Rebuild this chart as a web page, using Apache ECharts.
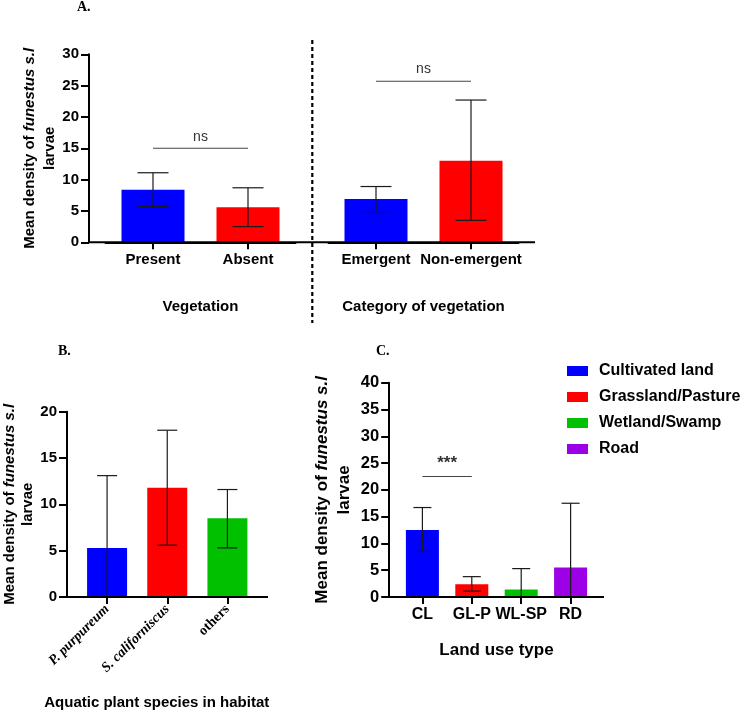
<!DOCTYPE html>
<html><head><meta charset="utf-8">
<script src="https://cdn.jsdelivr.net/npm/echarts@6/dist/echarts.min.js"></script>
<style>html,body{margin:0;padding:0;background:#fff}#c{width:740px;height:712px}</style>
</head><body><div id="c"></div>
<script>
// ---- data ----
const vegCats = ['Present', 'Absent'];
const vegMeans = [8.4, 5.6];
const vegLow = [5.7, 2.5];
const vegHigh = [11.1, 8.7];

const catCats = ['Emergent', 'Non-emergent'];
const catMeans = [6.9, 13.0];
const catLow = [4.9, 3.5];
const catHigh = [8.9, 22.7];

const plantCats = ['P. purpureum', 'S. californiscus', 'others'];
const plantMeans = [5.3, 11.8, 8.5];
const plantLow = [-2.6, 5.6, 5.3];
const plantHigh = [13.1, 18.0, 11.6];

const landCats = ['CL', 'GL-P', 'WL-SP', 'RD'];
const landNames = ['Cultivated land', 'Grassland/Pasture', 'Wetland/Swamp', 'Road'];
const landMeans = [12.5, 2.4, 1.4, 5.5];
const landLow = [8.5, 1.1, -2.4, -6.5];
const landHigh = [16.7, 3.8, 5.3, 17.5];

const sigVeg = [[0, 1, 15, 'ns']];
const sigCat = [[0, 1, 25.7, 'ns']];
const sigLand = [[0, 1, 22.5, '***']];

const colA = ['#0000FF', '#FF0000'];
const colB = ['#0000FF', '#FF0000', '#00C000'];
const colC = ['#0000FF', '#FF0000', '#00C000', '#9B00E6'];

// ---- helpers ----
const SANS = '"Liberation Sans", Arial, Helvetica, sans-serif';
const SERIF = '"Liberation Serif", "Times New Roman", serif';

function errData(lo, hi) { return lo.map((l, i) => [i, l, hi[i]]); }
function errRender(capHalf) {
  return function (params, api) {
    const x = api.value(0), lo = api.value(1), hi = api.value(2);
    const pHi = api.coord([x, hi]);
    const pLo = api.coord([x, Math.max(lo, 0)]);
    const st = { stroke: '#1a1a1a', lineWidth: 1.2 };
    const ch = [
      { type: 'line', shape: { x1: pHi[0], y1: pHi[1], x2: pLo[0], y2: pLo[1] }, style: st },
      { type: 'line', shape: { x1: pHi[0] - capHalf, y1: pHi[1], x2: pHi[0] + capHalf, y2: pHi[1] }, style: st }
    ];
    if (lo >= 0) ch.push({ type: 'line', shape: { x1: pLo[0] - capHalf, y1: pLo[1], x2: pLo[0] + capHalf, y2: pLo[1] }, style: st });
    return { type: 'group', children: ch };
  };
}
function sigRender(fs, weight, dy) {
  return function (params, api) {
    const p0 = api.coord([api.value(0), api.value(2)]);
    const p1 = api.coord([api.value(1), api.value(2)]);
    return {
      type: 'group', children: [
        { type: 'line', shape: { x1: p0[0], y1: p0[1], x2: p1[0], y2: p1[1] }, style: { stroke: '#444', lineWidth: 1.1 } },
        { type: 'text', style: { text: api.value(3), x: (p0[0] + p1[0]) / 2, y: p0[1] - dy, align: 'center', verticalAlign: 'middle', fontSize: fs, fontWeight: weight, fontFamily: SANS, fill: '#333' } }
      ]
    };
  };
}
function yName(fs, lh) {
  return {
    name: '{n|Mean density of }{i|funestus s.l}\n{n|larvae}',
    nameLocation: 'middle',
    nameMoveOverlap: false,
    nameTextStyle: {
      lineHeight: lh,
      rich: {
        n: { fontSize: fs, fontWeight: 'bold', fontFamily: SANS, color: '#000', lineHeight: lh },
        i: { fontSize: fs, fontWeight: 'bold', fontStyle: 'italic', fontFamily: SANS, color: '#000', lineHeight: lh }
      }
    }
  };
}
const axLine = { show: true, lineStyle: { color: '#000', width: 2 } };
const xTick = { show: true, alignWithLabel: true, length: 7, lineStyle: { color: '#000', width: 2 } };
function yTicks(len) { return { show: true, length: len, lineStyle: { color: '#000', width: 2 } }; }
function yLabel(fs) { return { fontSize: fs, fontWeight: 'bold', fontFamily: SANS, color: '#000', margin: 10 }; }
function xLabel(fs) { return { fontSize: fs, fontWeight: 'bold', fontFamily: SANS, color: '#000', margin: 10, interval: 0, hideOverlap: false }; }

// ---- layout ----
const gA1 = { left: 105.5, top: 54.3, width: 190, height: 188 };
const gA2 = { left: 328.5, top: 54.3, width: 190, height: 188 };
const gB = { left: 73, top: 411.7, width: 184.5, height: 185.3 };
const gC = { left: 397.7, top: 382.7, width: 197.6, height: 214.3 };

const chart = echarts.init(document.getElementById('c'), null, { renderer: 'canvas' });
chart.setOption({
  animation: false,
  backgroundColor: '#fff',
  grid: [gA1, gA2, gB, gC],
  legend: {
    data: landNames, orient: 'vertical', left: 567, top: 363, padding: 0,
    itemWidth: 21, itemHeight: 10, itemGap: 10, icon: 'rect',
    textStyle: { fontSize: 16, fontWeight: 'bold', fontFamily: SANS, color: '#000', lineHeight: 16, padding: [0, 0, 0, 6] }
  },
  xAxis: [
    {
      gridIndex: 0, type: 'category', data: vegCats, axisLine: axLine, axisTick: xTick,
      axisLabel: xLabel(15),
      name: 'Vegetation', nameLocation: 'middle', nameGap: 57,
      nameTextStyle: { fontSize: 15, fontWeight: 'bold', fontFamily: SANS, color: '#000' }
    },
    {
      gridIndex: 1, type: 'category', data: catCats, axisLine: axLine, axisTick: xTick,
      axisLabel: xLabel(15),
      name: 'Category of vegetation', nameLocation: 'middle', nameGap: 57,
      nameTextStyle: { fontSize: 15, fontWeight: 'bold', fontFamily: SANS, color: '#000' }
    },
    {
      gridIndex: 2, type: 'category', data: plantCats, axisLine: axLine, axisTick: xTick,
      axisLabel: {
        rotate: 45, margin: 10, interval: 0, fontSize: 14, fontFamily: SERIF, color: '#000', fontWeight: 'bold',
        formatter: v => (v === 'others' ? '{o|' + v + '}' : '{s|' + v + '}'),
        rich: {
          s: { fontSize: 14, fontFamily: SERIF, fontStyle: 'italic', fontWeight: 'bold', color: '#000' },
          o: { fontSize: 14, fontFamily: SERIF, fontWeight: 'bold', color: '#000' }
        }
      },
      name: 'Aquatic plant species in habitat', nameLocation: 'middle', nameGap: 98,
      nameTextStyle: { fontSize: 15, fontWeight: 'bold', fontFamily: SANS, color: '#000', padding: [0, 21, 0, 0] }
    },
    {
      gridIndex: 3, type: 'category', data: landCats, axisLine: axLine, axisTick: xTick,
      axisLabel: xLabel(16),
      name: 'Land use type', nameLocation: 'middle', nameGap: 45,
      nameTextStyle: { fontSize: 17, fontWeight: 'bold', fontFamily: SANS, color: '#000' }
    }
  ],
  yAxis: [
    Object.assign({
      gridIndex: 0, type: 'value', min: 0, max: 30, interval: 5, offset: 16.5,
      axisLine: axLine, axisTick: yTicks(8), axisLabel: yLabel(15), splitLine: { show: false }, nameGap: 29
    }, yName(15, 20)),
    { gridIndex: 1, type: 'value', min: 0, max: 30, interval: 5, show: false, splitLine: { show: false } },
    Object.assign({
      gridIndex: 2, type: 'value', min: 0, max: 20, interval: 5, offset: 10,
      axisLine: axLine, axisTick: yTicks(8), axisLabel: yLabel(15), splitLine: { show: false }, nameGap: 30
    }, yName(15, 18)),
    Object.assign({
      gridIndex: 3, type: 'value', min: 0, max: 40, interval: 5, offset: 8.5,
      axisLine: axLine, axisTick: yTicks(8), axisLabel: yLabel(16.5), splitLine: { show: false }, nameGap: 34
    }, yName(17, 22))
  ],
  series: [
    { type: 'bar', xAxisIndex: 0, yAxisIndex: 0, barWidth: 63, data: vegMeans.map((v, i) => ({ value: v, itemStyle: { color: colA[i] } })) },
    { type: 'bar', xAxisIndex: 1, yAxisIndex: 1, barWidth: 63, data: catMeans.map((v, i) => ({ value: v, itemStyle: { color: colA[i] } })) },
    { type: 'bar', xAxisIndex: 2, yAxisIndex: 2, barWidth: 40, data: plantMeans.map((v, i) => ({ value: v, itemStyle: { color: colB[i] } })) },
    ...landNames.map((nm, k) => ({
      type: 'bar', name: nm, xAxisIndex: 3, yAxisIndex: 3, barWidth: 33, barGap: '-100%',
      itemStyle: { color: colC[k] },
      data: landMeans.map((v, j) => (j === k ? v : '-'))
    })),
    { type: 'custom', xAxisIndex: 0, yAxisIndex: 0, z: 5, renderItem: errRender(15.5), data: errData(vegLow, vegHigh), encode: { x: 0, y: [1, 2] } },
    { type: 'custom', xAxisIndex: 1, yAxisIndex: 1, z: 5, renderItem: errRender(15.5), data: errData(catLow, catHigh), encode: { x: 0, y: [1, 2] } },
    { type: 'custom', xAxisIndex: 2, yAxisIndex: 2, z: 5, renderItem: errRender(10), data: errData(plantLow, plantHigh), encode: { x: 0, y: [1, 2] } },
    { type: 'custom', xAxisIndex: 3, yAxisIndex: 3, z: 5, renderItem: errRender(9), data: errData(landLow, landHigh), encode: { x: 0, y: [1, 2] } },
    { type: 'custom', xAxisIndex: 0, yAxisIndex: 0, z: 5, renderItem: sigRender(14, 'normal', 11), data: sigVeg, encode: { x: [0, 1], y: 2 } },
    { type: 'custom', xAxisIndex: 1, yAxisIndex: 1, z: 5, renderItem: sigRender(14, 'normal', 12), data: sigCat, encode: { x: [0, 1], y: 2 } },
    { type: 'custom', xAxisIndex: 3, yAxisIndex: 3, z: 5, renderItem: sigRender(17, 'bold', 13), data: sigLand, encode: { x: [0, 1], y: 2 } }
  ],
  graphic: [
    { type: 'line', shape: { x1: 89, y1: 242.3, x2: 535, y2: 242.3 }, style: { stroke: '#000', lineWidth: 2 }, z: 10 },
    { type: 'line', shape: { x1: 63, y1: 597, x2: 268, y2: 597 }, style: { stroke: '#000', lineWidth: 2 }, z: 10 },
    { type: 'line', shape: { x1: 389.2, y1: 597, x2: 604, y2: 597 }, style: { stroke: '#000', lineWidth: 2 }, z: 10 },
    { type: 'line', shape: { x1: 312.3, y1: 40, x2: 312.3, y2: 323 }, style: { stroke: '#000', lineWidth: 2.2, lineDash: [4, 3] }, z: 10 },
    { type: 'text', left: 77, top: 0, style: { text: 'A.', fontSize: 14, fontWeight: 'bold', fontFamily: SERIF, fill: '#000' } },
    { type: 'text', left: 58, top: 344, style: { text: 'B.', fontSize: 14, fontWeight: 'bold', fontFamily: SERIF, fill: '#000' } },
    { type: 'text', left: 376, top: 344, style: { text: 'C.', fontSize: 14, fontWeight: 'bold', fontFamily: SERIF, fill: '#000' } }
  ]
});
</script></body></html>
